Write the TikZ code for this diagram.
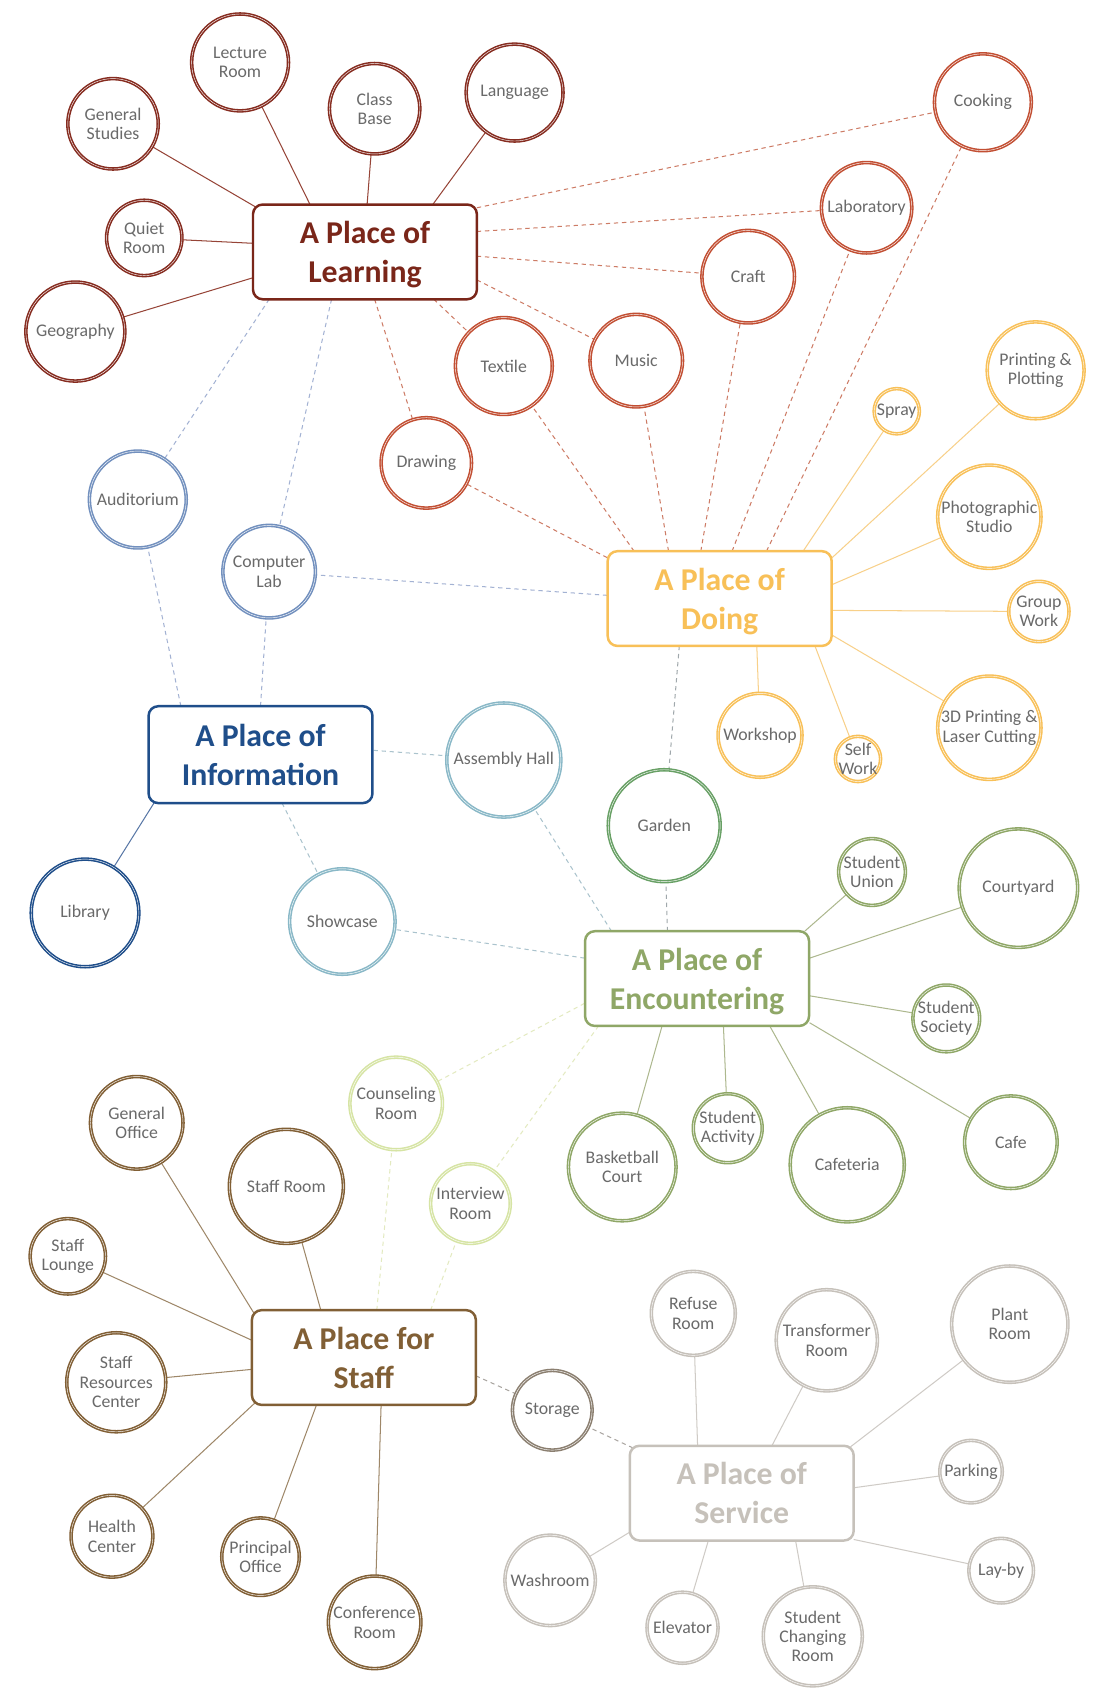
\documentclass[tikz,border=0pt]{standalone}
\usepackage{fontspec}
\setmainfont{Carlito}
\usetikzlibrary{backgrounds}

% text
\definecolor{txtgray}{HTML}{6A6A6A}
% circle / hub outlines
\definecolor{lrnC}{HTML}{862C20}
\definecolor{lrnT}{HTML}{7A2619}
\definecolor{crfC}{HTML}{C24F33}
\definecolor{infC}{HTML}{1F4E8A}
\definecolor{infL}{HTML}{7290BE}
\definecolor{tealC}{HTML}{89B8C7}
\definecolor{doC}{HTML}{F8C058}
\definecolor{grdC}{HTML}{68A065}
\definecolor{encC}{HTML}{8FA767}
\definecolor{cnsC}{HTML}{D6E4A4}
\definecolor{stfC}{HTML}{815F35}
\definecolor{stoC}{HTML}{8B7F70}
\definecolor{srvC}{HTML}{C6C1BA}
% connector colours
\definecolor{lrnLn}{HTML}{964437}
\definecolor{crfLn}{HTML}{CD7B65}
\definecolor{infLn}{HTML}{A3B2D3}
\definecolor{libLn}{HTML}{5877A6}
\definecolor{tealLn}{HTML}{AAC3CD}
\definecolor{doLn}{HTML}{F8D089}
\definecolor{grdLn}{HTML}{A0A8AC}
\definecolor{encLn}{HTML}{ADB88E}
\definecolor{cnsLn}{HTML}{E3EAC0}
\definecolor{stfLn}{HTML}{9E8768}
\definecolor{stoLn}{HTML}{A8A49F}
\definecolor{srvLn}{HTML}{CFCBC6}

\newcommand\roomfont{\fontsize{16.5}{18}\selectfont}
\newcommand\hubfont{\fontsize{29.5}{36}\selectfont\bfseries}

\tikzset{
  room/.style={circle, draw=#1, fill=white, line width=1.45pt, double=white,
    double distance=0.4pt, inner xsep=-30pt, inner ysep=-3pt, align=center,
    text=txtgray, font=\roomfont},
  hub/.style={rectangle, rounded corners=9pt, draw=#1, text=#1, fill=white,
    line width=2.3pt, minimum width=208pt, minimum height=88pt, inner sep=2pt,
    align=center, font=\hubfont, text depth=-4pt},
  solidln/.style={draw=#1, line width=0.95pt},
  dashln/.style={draw=#1, line width=0.95pt, dash pattern=on 4pt off 3.5pt},
}

\begin{document}
\begin{tikzpicture}[x=1pt, y=-1pt]
\useasboundingbox (0,0) rectangle (1022,1568);

% ---------- hubs ----------
\node[hub=lrnT] (learn) at (339,234) {A Place of\\Learning};
\node[hub=doC] (doing) at (668.5,556) {A Place of\\Doing};
\node[hub=infC, minimum height=90pt] (info) at (242,701) {A Place of\\Information};
\node[hub=encC] (enc) at (647.5,909) {A Place of\\Encountering};
\node[hub=stfC] (staff) at (338,1261) {A Place for\\Staff};
\node[hub=srvC] (serv) at (689,1387) {A Place of\\Service};

% ---------- learning ----------
\node[room=lrnC, minimum size=90pt] (lect) at (223,58) {Lecture\\Room};
\node[room=lrnC, minimum size=84pt] (gens) at (105,115) {General\\Studies};
\node[room=lrnC, minimum size=84pt] (cbase) at (348,101) {Class\\Base};
\node[room=lrnC, minimum size=90pt] (lang) at (478,86) {Language};
\node[room=lrnC, minimum size=70pt] (quiet) at (134,221) {Quiet\\Room};
\node[room=lrnC, minimum size=92pt] (geo) at (70,308) {Geography};

% ---------- shared learning / doing ----------
\node[room=crfC, minimum size=90pt] (cook) at (913,95) {Cooking};
\node[room=crfC, minimum size=84pt] (lab) at (805,193) {Laboratory};
\node[room=crfC, minimum size=86pt] (craft) at (695,257) {Craft};
\node[room=crfC, minimum size=86pt] (music) at (591,335) {Music};
\node[room=crfC, minimum size=90pt] (textile) at (468,340) {Textile};
\node[room=crfC, minimum size=84pt] (drawing) at (396,430) {Drawing};

% ---------- information ----------
\node[room=infL, minimum size=90pt] (audi) at (128,464) {Auditorium};
\node[room=infL, minimum size=86pt] (comp) at (250,531) {Computer\\Lab};
\node[room=infC, minimum size=100pt] (lib) at (79,848) {Library};
\node[room=tealC, minimum size=106pt] (assem) at (468,706) {Assembly Hall};
\node[room=tealC, minimum size=98pt] (show) at (318,856) {Showcase};

% ---------- doing ----------
\node[room=doC, minimum size=42pt] (spray) at (833,382) {Spray};
\node[room=doC, minimum size=90pt] (print) at (962,344) {Printing \&\\Plotting};
\node[room=doC, minimum size=96pt] (photo) at (919,480) {Photographic\\Studio};
\node[room=doC, minimum size=56pt] (group) at (965,568) {Group\\Work};
\node[room=doC, minimum size=96pt] (laser) at (919,676) {3D Printing \&\\Laser Cutting};
\node[room=doC, minimum size=42pt] (self) at (797,705) {Self\\Work};
\node[room=doC, minimum size=78pt] (wshop) at (706,683) {Workshop};
\node[room=grdC, minimum size=104pt] (garden) at (617,767) {Garden};

% ---------- encountering ----------
\node[room=encC, minimum size=62pt] (union) at (810,810) {Student\\Union};
\node[room=encC, minimum size=110pt] (court) at (946,825) {Courtyard};
\node[room=encC, minimum size=62pt] (society) at (879,946) {Student\\Society};
\node[room=encC, minimum size=86pt] (cafe) at (939,1061) {Cafe};
\node[room=encC, minimum size=106pt] (cafet) at (787,1082) {Cafeteria};
\node[room=encC, minimum size=64pt] (activ) at (676,1048) {Student\\Activity};
\node[room=encC, minimum size=100pt] (bball) at (578,1084) {Basketball\\Court};
\node[room=cnsC, minimum size=86pt] (couns) at (368,1025) {Counseling\\Room};
\node[room=cnsC, minimum size=74pt] (interv) at (437,1118) {Interview\\Room};

% ---------- staff ----------
\node[room=stfC, minimum size=86pt] (goff) at (127,1043) {General\\Office};
\node[room=stfC, minimum size=106pt] (sroom) at (266,1102) {Staff Room};
\node[room=stfC, minimum size=70pt] (lounge) at (63,1167) {Staff\\Lounge};
\node[room=stfC, minimum size=92pt] (sres) at (108,1284) {Staff\\Resources\\Center};
\node[room=stfC, minimum size=76pt] (health) at (104,1427) {Health\\Center};
\node[room=stfC, minimum size=72pt] (princ) at (242,1446) {Principal\\Office};
\node[room=stfC, minimum size=86pt] (conf) at (348,1507) {Conference\\Room};
\node[room=stoC, minimum size=74pt] (storage) at (513,1310) {Storage};

% ---------- service ----------
\node[room=srvC, minimum size=78pt] (refuse) at (644,1220) {Refuse\\Room};
\node[room=srvC, minimum size=94pt] (transf) at (768,1245) {Transformer\\Room};
\node[room=srvC, minimum size=108pt] (plant) at (938,1230) {Plant\\Room};
\node[room=srvC, minimum size=58pt] (park) at (902,1367) {Parking};
\node[room=srvC, minimum size=60pt] (layby) at (930,1459) {Lay-by};
\node[room=srvC, minimum size=92pt] (change) at (755,1520) {Student\\Changing\\Room};
\node[room=srvC, minimum size=66pt] (elev) at (634,1512) {Elevator};
\node[room=srvC, minimum size=84pt] (wash) at (511,1468) {Washroom};

% ---------- connectors (behind the nodes) ----------
\begin{pgfonlayer}{background}
\fill[white] (0,0) rectangle (1022,1568);

% learning
\draw[solidln=lrnLn] ([shift={(-102,-42)}]learn.center) -- (gens);
\draw[solidln=lrnLn] ([shift={(-51,-44)}]learn.center) -- (lect);
\draw[solidln=lrnLn] ([shift={(2,-44)}]learn.center) -- (cbase);
\draw[solidln=lrnLn] ([shift={(63,-44)}]learn.center) -- (lang);
\draw[solidln=lrnLn] ([shift={(-104,-8)}]learn.center) -- (quiet);
\draw[solidln=lrnLn] ([shift={(-104,24)}]learn.center) -- (geo);
\draw[dashln=crfLn] ([shift={(104,-41)}]learn.center) -- (cook);
\draw[dashln=crfLn] ([shift={(104,-19)}]learn.center) -- (lab);
\draw[dashln=crfLn] ([shift={(104,4)}]learn.center) -- (craft);
\draw[dashln=crfLn] ([shift={(104,26)}]learn.center) -- (music);
\draw[dashln=crfLn] ([shift={(64,44)}]learn.center) -- (textile);
\draw[dashln=crfLn] ([shift={(9,44)}]learn.center) -- (drawing);
\draw[dashln=infLn] ([shift={(-31,44)}]learn.center) -- (comp);
\draw[dashln=infLn] ([shift={(-89,44)}]learn.center) -- (audi);

% doing
\draw[dashln=crfLn] ([shift={(-79.5,-44)}]doing.center) -- (textile);
\draw[dashln=crfLn] ([shift={(-47.5,-44)}]doing.center) -- (music);
\draw[dashln=crfLn] ([shift={(-17.5,-44)}]doing.center) -- (craft);
\draw[dashln=crfLn] ([shift={(11.5,-44)}]doing.center) -- (lab);
\draw[dashln=crfLn] ([shift={(43.5,-44)}]doing.center) -- (cook);
\draw[dashln=crfLn] ([shift={(-104.5,-38)}]doing.center) -- (drawing);
\draw[dashln=infLn] ([shift={(-104.5,-3)}]doing.center) -- (comp);
\draw[solidln=doLn] ([shift={(77.5,-44)}]doing.center) -- (spray);
\draw[solidln=doLn] ([shift={(104.5,-38)}]doing.center) -- (print);
\draw[solidln=doLn] ([shift={(104.5,-13)}]doing.center) -- (photo);
\draw[solidln=doLn] ([shift={(104.5,11)}]doing.center) -- (group);
\draw[solidln=doLn] ([shift={(104.5,34)}]doing.center) -- (laser);
\draw[solidln=doLn] ([shift={(88.5,44)}]doing.center) -- (self);
\draw[solidln=doLn] ([shift={(34.5,44)}]doing.center) -- (wshop);
\draw[dashln=grdLn] ([shift={(-37.5,44)}]doing.center) -- (garden);

% information
\draw[dashln=infLn] ([shift={(-74,-45)}]info.center) -- (audi);
\draw[dashln=infLn] ([shift={(0,-45)}]info.center) -- (comp);
\draw[solidln=libLn] ([shift={(-99,45)}]info.center) -- (lib);
\draw[dashln=tealLn] ([shift={(105,-4)}]info.center) -- (assem);
\draw[dashln=tealLn] ([shift={(20,45)}]info.center) -- (show);

% encountering
\draw[dashln=tealLn] ([shift={(-79.5,-44)}]enc.center) -- (assem);
\draw[dashln=tealLn] ([shift={(-104.5,-19)}]enc.center) -- (show);
\draw[dashln=grdLn] ([shift={(-27.5,-44)}]enc.center) -- (garden);
\draw[dashln=cnsLn] ([shift={(-104.5,23)}]enc.center) -- (couns);
\draw[dashln=cnsLn] ([shift={(-91.5,44)}]enc.center) -- (interv);
\draw[solidln=encLn] ([shift={(100,-44)}]enc.center) -- (union);
\draw[solidln=encLn] ([shift={(104.5,-19)}]enc.center) -- (court);
\draw[solidln=encLn] ([shift={(104.5,16)}]enc.center) -- (society);
\draw[solidln=encLn] ([shift={(104.5,41)}]enc.center) -- (cafe);
\draw[solidln=encLn] ([shift={(67.5,44)}]enc.center) -- (cafet);
\draw[solidln=encLn] ([shift={(24.5,44)}]enc.center) -- (activ);
\draw[solidln=encLn] ([shift={(-32.5,44)}]enc.center) -- (bball);

% staff
\draw[solidln=stfLn] ([shift={(-102,-41)}]staff.center) -- (goff);
\draw[solidln=stfLn] ([shift={(-40,-44)}]staff.center) -- (sroom);
\draw[solidln=stfLn] ([shift={(-104,-16)}]staff.center) -- (lounge);
\draw[solidln=stfLn] ([shift={(-104,11)}]staff.center) -- (sres);
\draw[solidln=stfLn] ([shift={(-101,42)}]staff.center) -- (health);
\draw[solidln=stfLn] ([shift={(-44,44)}]staff.center) -- (princ);
\draw[solidln=stfLn] ([shift={(16,44)}]staff.center) -- (conf);
\draw[dashln=cnsLn] ([shift={(12,-44)}]staff.center) -- (couns);
\draw[dashln=cnsLn] ([shift={(62,-44)}]staff.center) -- (interv);
\draw[dashln=stoLn] ([shift={(104,17)}]staff.center) -- (storage);

% service
\draw[dashln=stoLn] ([shift={(-101,-42)}]serv.center) -- (storage);
\draw[solidln=srvLn] ([shift={(-41,-44)}]serv.center) -- (refuse);
\draw[solidln=srvLn] ([shift={(28,-44)}]serv.center) -- (transf);
\draw[solidln=srvLn] ([shift={(101,-43)}]serv.center) -- (plant);
\draw[solidln=srvLn] ([shift={(104,-5)}]serv.center) -- (park);
\draw[solidln=srvLn] ([shift={(104,43)}]serv.center) -- (layby);
\draw[solidln=srvLn] ([shift={(50,44)}]serv.center) -- (change);
\draw[solidln=srvLn] ([shift={(-31,44)}]serv.center) -- (elev);
\draw[solidln=srvLn] ([shift={(-102,35)}]serv.center) -- (wash);
\end{pgfonlayer}
\end{tikzpicture}
\end{document}
